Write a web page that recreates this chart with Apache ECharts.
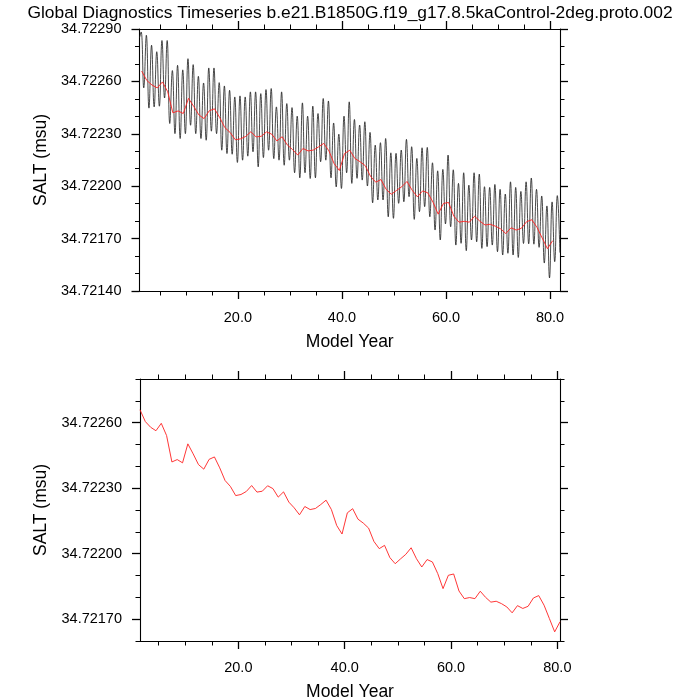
<!DOCTYPE html>
<html><head><meta charset="utf-8">
<script src="https://cdn.jsdelivr.net/npm/echarts@6/dist/echarts.min.js"></script>
<style>html,body{margin:0;padding:0;background:#fff}#c{width:700px;height:700px}</style>
</head><body><div id="c"></div>
<script>
const chartTitle = "Global Diagnostics Timeseries b.e21.B1850G.f19_g17.8.5kaControl-2deg.proto.002";
const yAxisTitle = "SALT (msu)";
const xAxisTitle = "Model Year";

// model years of the monthly record (one seasonal peak and trough read per year)
const years = [1,2,3,4,5,6,7,8,9,10,11,12,13,14,15,16,17,18,19,20,21,22,23,24,25,26,27,28,29,30,
  31,32,33,34,35,36,37,38,39,40,41,42,43,44,45,46,47,48,49,50,51,52,53,54,55,56,57,58,59,60,
  61,62,63,64,65,66,67,68,69,70,71,72,73,74,75,76,77,78,79,80,81];
const monthlyStart = [1.083, 34.722850];
const peakSalt = [34.722883, 34.722864, 34.722807, 34.722770, 34.722834, 34.722834, 34.722662, 34.722692, 34.722666, 34.722730,
  34.722696, 34.722629, 34.722591, 34.722677, 34.722677, 34.722593, 34.722574, 34.722549, 34.722511, 34.722517,
  34.722511, 34.722540, 34.722540, 34.722530, 34.722553, 34.722559, 34.722454, 34.722540, 34.722473, 34.722450,
  34.722401, 34.722477, 34.722401, 34.722458, 34.722416, 34.722502, 34.722488, 34.722362, 34.722298, 34.722401,
  34.722483, 34.722382, 34.722350, 34.722369, 34.722308, 34.722235, 34.722249, 34.722273, 34.722191, 34.722188,
  34.722207, 34.722268, 34.722226, 34.722159, 34.722220, 34.722222, 34.722134, 34.722088, 34.722096, 34.722178,
  34.722094, 34.722016, 34.722077, 34.722006, 34.722077, 34.722069, 34.721997, 34.721993, 34.722010, 34.721982,
  34.721955, 34.722025, 34.721993, 34.721970, 34.722025, 34.722047, 34.721982, 34.721944, 34.721887, 34.721910,
  34.721946];
const troughSalt = [34.722563, 34.722447, 34.722454, 34.722458, 34.722505, 34.722359, 34.722301, 34.722273, 34.722301, 34.722349,
  34.722301, 34.722273, 34.722263, 34.722315, 34.722301, 34.722206, 34.722187, 34.722183, 34.722136, 34.722149,
  34.722172, 34.722197, 34.722111, 34.722164, 34.722206, 34.722158, 34.722149, 34.722120, 34.722149, 34.722077,
  34.722048, 34.722077, 34.722044, 34.722048, 34.722140, 34.722149, 34.722048, 34.721996, 34.721987, 34.722077,
  34.722016, 34.722045, 34.722035, 34.722001, 34.721905, 34.721921, 34.721921, 34.721825, 34.721816, 34.721902,
  34.721911, 34.721940, 34.721810, 34.721854, 34.721883, 34.721825, 34.721749, 34.721692, 34.721784, 34.721768,
  34.721663, 34.721673, 34.721631, 34.721692, 34.721682, 34.721644, 34.721654, 34.721663, 34.721625, 34.721606,
  34.721616, 34.721606, 34.721592, 34.721672, 34.721670, 34.721668, 34.721650, 34.721560, 34.721475, 34.721568,
  34.721620];

// annual means
const annualYears = [1.5,2.5,3.5,4.5,5.5,6.5,7.5,8.5,9.5,10.5,11.5,12.5,13.5,14.5,15.5,16.5,17.5,18.5,19.5,20.5,
  21.5,22.5,23.5,24.5,25.5,26.5,27.5,28.5,29.5,30.5,31.5,32.5,33.5,34.5,35.5,36.5,37.5,38.5,39.5,40.5,
  41.5,42.5,43.5,44.5,45.5,46.5,47.5,48.5,49.5,50.5,51.5,52.5,53.5,54.5,55.5,56.5,57.5,58.5,59.5,60.5,
  61.5,62.5,63.5,64.5,65.5,66.5,67.5,68.5,69.5,70.5,71.5,72.5,73.5,74.5,75.5,76.5,77.5,78.5,79.5,80.5];
const annualSalt = [34.722659, 34.722605, 34.722579, 34.722563, 34.722597, 34.722541, 34.722420, 34.722431, 34.722416, 34.722503,
  34.722457, 34.722408, 34.722387, 34.722432, 34.722443, 34.722393, 34.722335, 34.722308, 34.722266, 34.722271,
  34.722285, 34.722312, 34.722282, 34.722286, 34.722311, 34.722298, 34.722259, 34.722283, 34.722236, 34.722210,
  34.722178, 34.722216, 34.722202, 34.722207, 34.722225, 34.722245, 34.722202, 34.722129, 34.722090, 34.722187,
  34.722206, 34.722158, 34.722140, 34.722117, 34.722056, 34.722023, 34.722038, 34.721982, 34.721954, 34.721976,
  34.721997, 34.722027, 34.721977, 34.721939, 34.721973, 34.721962, 34.721909, 34.721840, 34.721901, 34.721907,
  34.721829, 34.721794, 34.721799, 34.721794, 34.721828, 34.721800, 34.721778, 34.721782, 34.721771, 34.721756,
  34.721729, 34.721762, 34.721749, 34.721759, 34.721797, 34.721808, 34.721764, 34.721703, 34.721642, 34.721688];

// ticks
const xMajorTicks = [20, 40, 60, 80];
const xMinorTicks = [5, 10, 15, 25, 30, 35, 45, 50, 55, 65, 70, 75];
const yTopMajorTicks = [34.7214, 34.7217, 34.722, 34.7223, 34.7226, 34.7229];
const yTopMinorTicks = [34.7215, 34.7216, 34.7218, 34.7219, 34.7221, 34.7222, 34.7224, 34.7225, 34.7227, 34.7228];
const yBotMajorTicks = [34.7217, 34.722, 34.7223, 34.7226];
const yBotMinorTicks = [34.7216, 34.7218, 34.7219, 34.7221, 34.7222, 34.7224, 34.7225, 34.7227, 34.7228];

const FONT = "'Liberation Sans', Arial, Helvetica, sans-serif";

// monthly black series: peak then trough of each model year
const monthly = [monthlyStart];
years.forEach((y, i) => {
  monthly.push([y + 0.4, peakSalt[i]]);
  monthly.push([y + 0.9, troughSalt[i]]);
});
const annual = annualYears.map((y, i) => [y, annualSalt[i]]);

function axisSet(kind, grid, min, max, majors, minors, label) {
  const isX = kind === 'x';
  const sides = isX ? ['bottom', 'top'] : ['left', 'right'];
  const line = {show: true, onZero: false, lineStyle: {color: '#000', width: 1.1}};
  const out = [];
  sides.forEach((pos, si) => {
    out.push({
      type: 'value', gridIndex: grid, position: pos, min: min, max: max,
      splitLine: {show: false}, axisLine: line,
      axisTick: {show: true, customValues: majors, length: 8, inside: false, lineStyle: {color: '#000', width: 1.3}},
      axisLabel: si === 0 ? Object.assign({show: true, customValues: majors, color: '#000', fontFamily: FONT, fontSize: 14.5}, label) : {show: false},
      name: si === 0 ? (isX ? xAxisTitle : yAxisTitle) : '',
      nameLocation: 'middle',
      nameGap: isX ? 42 : 84,
      nameTextStyle: {color: '#000', fontFamily: FONT, fontSize: 17.5}
    });
    out.push({
      type: 'value', gridIndex: grid, position: pos, min: min, max: max,
      splitLine: {show: false}, axisLine: {show: false, onZero: false},
      axisTick: {show: true, customValues: minors, length: 4.5, inside: false, lineStyle: {color: '#000', width: 1}},
      axisLabel: {show: false}
    });
  });
  return out;
}

const chart = echarts.init(document.getElementById('c'), null, {renderer: 'canvas'});
chart.setOption({
  animation: false,
  backgroundColor: '#fff',
  title: {
    text: chartTitle, left: 'center', top: 0,
    textStyle: {color: '#000', fontFamily: FONT, fontSize: 17.4, fontWeight: 'normal'}
  },
  grid: [
    {left: 139.5, top: 29, width: 420.5, height: 262, outerBoundsMode: 'none'},
    {left: 140, top: 379, width: 420, height: 262, outerBoundsMode: 'none'}
  ],
  xAxis: [
    ...axisSet('x', 0, 1.083, 81.917, xMajorTicks, xMinorTicks, {formatter: v => v.toFixed(1), margin: 19}),
    ...axisSet('x', 1, 1.5, 80.5, xMajorTicks, xMinorTicks, {formatter: v => v.toFixed(1), margin: 19})
  ],
  yAxis: [
    ...axisSet('y', 0, 34.7214, 34.7229, yTopMajorTicks, yTopMinorTicks, {formatter: v => v.toFixed(5), margin: 18}),
    ...axisSet('y', 1, 34.7216, 34.7228, yBotMajorTicks, yBotMinorTicks, {formatter: v => v.toFixed(5), margin: 18})
  ],
  series: [
    {type: 'line', xAxisIndex: 0, yAxisIndex: 0, data: monthly, showSymbol: false, symbol: 'none',
      smooth: 0.45, lineStyle: {color: '#1a1a1a', width: 0.8}, z: 2},
    {type: 'line', xAxisIndex: 0, yAxisIndex: 0, data: annual, showSymbol: false, symbol: 'none',
      lineStyle: {color: '#ff2020', width: 0.9}, z: 3},
    {type: 'line', xAxisIndex: 4, yAxisIndex: 4, data: annual, showSymbol: false, symbol: 'none',
      lineStyle: {color: '#ff2020', width: 0.9}, z: 3}
  ]
});
</script>
</body></html>
